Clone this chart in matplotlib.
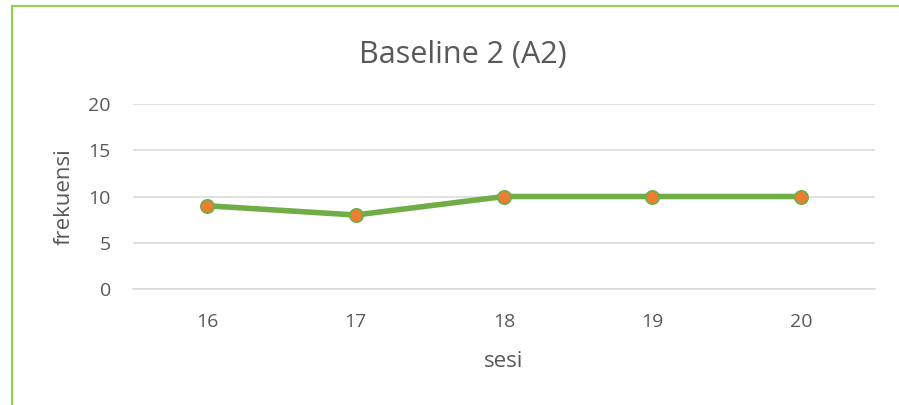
import matplotlib
matplotlib.use("Agg")
import matplotlib.pyplot as plt
from matplotlib.lines import Line2D

sessions = ["16", "17", "18", "19", "20"]
frequency = [9, 8, 10, 10, 10]
y_ticks = [0, 5, 10, 15, 20]

title = "Baseline 2 (A2)"
x_label = "sesi"
y_label = "frekuensi"

text_color = "#595959"
line_color = "#70AD47"
marker_color = "#ED7D31"
grid_color = "#D9D9D9"
frame_color = "#92D050"

plt.rcParams["font.family"] = ["Open Sans", "DejaVu Sans"]

fig = plt.figure(figsize=(8.99, 4.05), dpi=100)
ax = fig.add_axes([133 / 899, 1 - 289 / 405, 742 / 899, 185 / 405])

x = list(range(len(sessions)))
ax.plot(x, frequency, color=line_color, linewidth=4.0, solid_capstyle="round",
        marker="o", markersize=9.5, markerfacecolor=marker_color,
        markeredgecolor=line_color, markeredgewidth=1.3, zorder=3)

ax.set_xlim(-0.5, len(sessions) - 0.5)
ax.set_ylim(0, 20)
ax.set_yticks(y_ticks)
ax.set_xticks(x)
ax.set_xticklabels(sessions)
ax.grid(axis="y", color=grid_color, linewidth=1.1)
ax.set_axisbelow(True)
for s in ax.spines.values():
    s.set_visible(False)
ax.spines["bottom"].set_visible(True)
ax.spines["bottom"].set_color(grid_color)
ax.spines["bottom"].set_linewidth(1.1)
ax.tick_params(length=0, colors=text_color, labelsize=14)
ax.tick_params(axis="y", pad=16)
ax.tick_params(axis="x", pad=17)

ax.set_xlabel(x_label, color=text_color, fontsize=16, labelpad=15)
ax.set_ylabel(y_label, color=text_color, fontsize=16, labelpad=10)
fig.text(463 / 899, 1 - 55 / 405, title, color=text_color, fontsize=22,
         ha="center", va="center")

# Outer chart frame (top and left edges visible)
fig.add_artist(Line2D([12 / 899, 1.0], [1 - 6 / 405] * 2, transform=fig.transFigure,
                      color=frame_color, linewidth=1.5))
fig.add_artist(Line2D([12 / 899] * 2, [0.0, 1 - 6 / 405], transform=fig.transFigure,
                      color=frame_color, linewidth=1.5))

fig.savefig("out.png", dpi=100, facecolor="white")
